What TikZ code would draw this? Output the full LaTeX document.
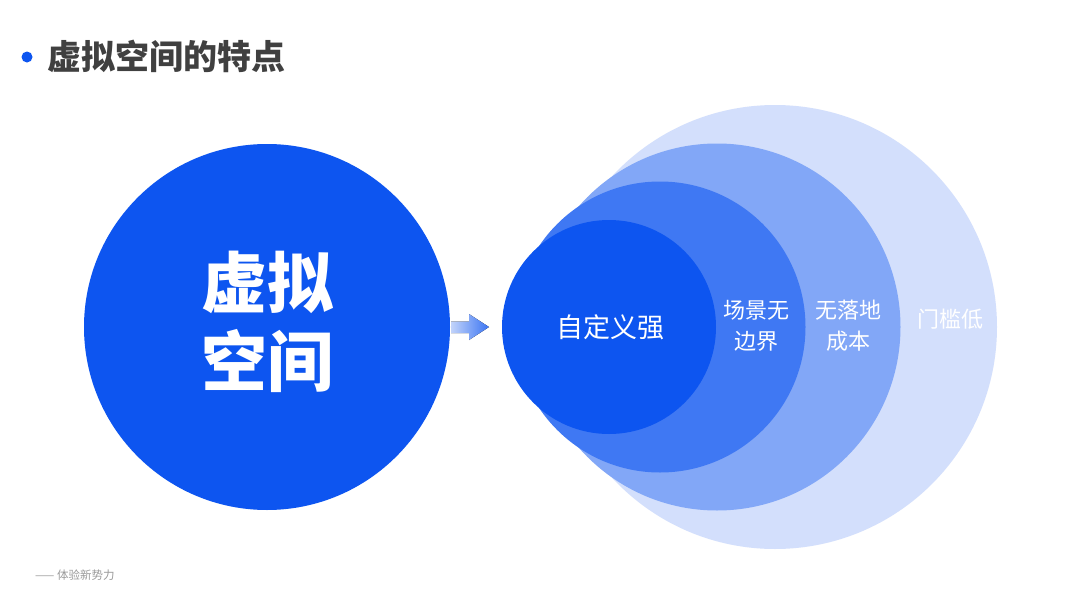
\documentclass[tikz,border=0pt]{standalone}
\usepackage{fontspec}
\setmainfont{Noto Sans CJK SC}
\definecolor{mainblue}{HTML}{0D55F0}
\definecolor{ringtwo}{HTML}{3F78F3}
\definecolor{ringthree}{HTML}{82A7F7}
\definecolor{ringfour}{HTML}{D3DFFC}
\definecolor{titlegray}{HTML}{404040}
\definecolor{footgray}{HTML}{9A9A9A}
\definecolor{arrowlight}{HTML}{C2D3FA}
\begin{document}
\begin{tikzpicture}[x=1pt,y=-1pt,
  ring/.style={circle,inner sep=0pt,minimum size=#1},
  whitetext/.style={text=white,align=center,inner sep=0pt}]
\useasboundingbox (0,0) rectangle (1080,605);
\fill[white] (0,0) rectangle (1080,605);
% title
\fill[mainblue] (27,57) circle (5.5);
\node[anchor=west,text=titlegray,font=\fontsize{34}{36}\selectfont\bfseries,inner sep=0pt] (title) at (47.5,56) {虚拟空间的特点};
% big circle
\node[ring=366pt,fill=mainblue] (big) at (267,327) {};
\node[whitetext,font=\fontsize{66}{79}\selectfont\bfseries] (bigtext) at (267,322) {虚拟\\空间};
% rings
\node[ring=444pt,fill=ringfour] (r4) at (775,327) {};
\node[ring=367pt,fill=ringthree] (r3) at (717,327) {};
\node[ring=291pt,fill=ringtwo] (r2) at (660,327) {};
\node[ring=214pt,fill=mainblue] (r1) at (609,327) {};
% arrow
\fill[left color=arrowlight,right color=mainblue!75!arrowlight] (451,321.5) -- (469,321.5) -- (469,314) -- (489,327) -- (469,340) -- (469,333) -- (451,333) -- cycle;
\coordinate (arrowtip) at (489,327);
% ring labels
\node[whitetext,font=\fontsize{27}{30}\selectfont] (t1) at (610,327) {自定义强};
\node[whitetext,font=\fontsize{22}{31}\selectfont] (t2) at (756,326) {场景无\\边界};
\node[whitetext,font=\fontsize{22}{31}\selectfont] (t3) at (848,326) {无落地\\成本};
\node[whitetext,font=\fontsize{22}{26}\selectfont] (t4) at (950,319) {门槛低};
% footer
\node[anchor=west,text=footgray,font=\fontsize{11.5}{13}\selectfont,inner sep=0pt] (foot) at (35,575) {—— 体验新势力};
\end{tikzpicture}
\end{document}
